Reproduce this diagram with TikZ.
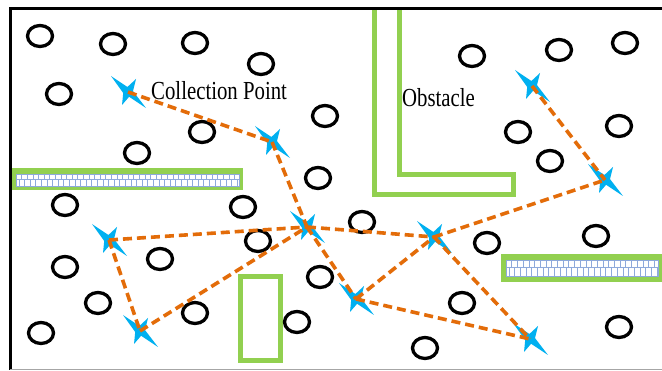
\documentclass[tikz,border=0pt]{standalone}
\usepackage{fontspec}
\setmainfont{Liberation Serif}
\definecolor{obgreen}{HTML}{92D050}
\definecolor{starblue}{HTML}{00B0F0}
\definecolor{routeorange}{HTML}{E36C09}
\definecolor{brickblue}{HTML}{8EA9DB}
\tikzset{
  route/.style={routeorange, line width=3.6pt, dash pattern=on 9pt off 5pt},
  sensor/.style={black, line width=3.3pt},
  obstacleline/.style={obgreen, line width=5pt},
  cpstar/.pic={\fill[starblue] (-17,-16) -- (-0.6,-5) -- (8,-13) -- (5,-0.9) -- (18,16) -- (1.1,4.8) -- (-6,13) -- (-4.8,1) -- cycle;},
  textlabel/.style={anchor=base west, inner sep=0pt, font=\fontsize{26}{26}\selectfont}
}
\begin{document}
\begin{tikzpicture}[x=1pt,y=-1pt]
\useasboundingbox (0,0) rectangle (662,371);
\clip (0,0) rectangle (662,371);
\fill[white] (0,0) rectangle (662,371);

% obstacles
\draw[obstacleline] (374,10) -- (374,195) -- (513,195) -- (513,175) -- (399,175) -- (399,10);
\draw[obstacleline] (240.5,276.5) rectangle (280.5,360.5);

% walls with brick pattern
\fill[obgreen] (12,168) rectangle (243,190);
\fill[white] (16,174) rectangle (239,186);
\draw[brickblue, line width=0.6pt] (16,174) rectangle (239,186) (16,179) -- (239,179);
\foreach \i in {0,...,39} {
  \draw[brickblue, line width=0.6pt] (16+\i*5.6,174) -- (16+\i*5.6,179);
  \draw[brickblue, line width=0.6pt] (18.8+\i*5.6,179) -- (18.8+\i*5.6,186);
}
\fill[obgreen] (501,254) rectangle (665,282);
\fill[white] (506,260) rectangle (658,276);
\draw[brickblue, line width=0.6pt] (506,260) rectangle (658,276) (506,267) -- (658,267);
\foreach \i in {0,...,26} {
  \draw[brickblue, line width=0.6pt] (506+\i*5.7,260) -- (506+\i*5.7,267);
  \draw[brickblue, line width=0.6pt] (508.8+\i*5.7,267) -- (508.8+\i*5.7,276);
}

% frame
\draw[black, line width=3pt] (10,370) -- (10,8.5) -- (663,8.5);
\draw[gray!70, line width=1.5pt] (10,369.5) -- (663,369.5);

% sensor nodes
\foreach \p in {(40,36),(113,44),(195,43),(261,64),(59,94),(325,116),(202,132),(137,153),
  (318,178),(472,56),(559,50),(625,43),(518,132),(619,126),(550,161),(65,205),(243,207),
  (258,241),(160,259),(65,267),(98,303),(195,313),(41,333),(297,322),(320,277),(362,222),
  (487,243),(596,236),(462,303),(425,348),(619,327)}
  \draw[sensor] \p ellipse (12.5 and 10.5);

% collection points
\coordinate (s1) at (128,92);
\coordinate (s2) at (272,142);
\coordinate (s3) at (532,86);
\coordinate (s4) at (605,180);
\coordinate (s5) at (109,240);
\coordinate (s6) at (140,331);
\coordinate (s7) at (307,227);
\coordinate (s8) at (434,237);
\coordinate (s9) at (356,299);
\coordinate (s10) at (530,339);
\foreach \s in {s1,s2,s3,s4,s5,s6,s7,s8,s9,s10}
  \pic at (\s) {cpstar};

% routes
\draw[route] (s1) -- (s2);
\draw[route] (s2) -- (s7);
\draw[route] (s5) -- (s7);
\draw[route] (s5) -- (s6);
\draw[route] (s6) -- (s7);
\draw[route] (s7) -- (s8);
\draw[route] (s7) -- (s9);
\draw[route] (s9) -- (s8);
\draw[route] (s8) -- (s4);
\draw[route] (s3) -- (s4);
\draw[route] (s9) -- (s10);
\draw[route] (s8) -- (s10);

% labels
\node[textlabel] (cplabel) at (151,99.3) {\scalebox{0.8}[1]{Collection Point}};
\node[textlabel] (oblabel) at (402,107) {\scalebox{0.8}[1]{Obstacle}};
\end{tikzpicture}
\end{document}
